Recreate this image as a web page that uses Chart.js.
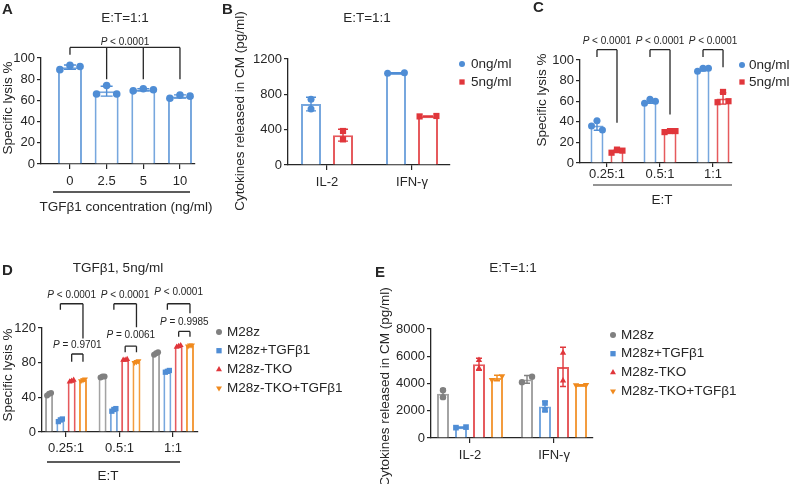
<!DOCTYPE html>
<html>
<head>
<meta charset="utf-8">
<script src="https://cdn.jsdelivr.net/npm/chart.js@4.4.1/dist/chart.umd.min.js"></script>
<style>
  html, body { margin: 0; padding: 0; background: #fff; }
  #wrap { position: relative; width: 794px; height: 484px; overflow: hidden; }
  #wrap canvas { position: absolute; left: 0; top: 0; }
</style>
</head>
<body>
<div id="wrap">
  <canvas id="chartA" width="794" height="484"></canvas>
  <canvas id="chartB" width="794" height="484"></canvas>
  <canvas id="chartC" width="794" height="484"></canvas>
  <canvas id="chartD" width="794" height="484"></canvas>
  <canvas id="chartE" width="794" height="484"></canvas>
</div>
<script>
// ---- data (replicates per bar) ----
// A: specific lysis vs TGFb1 dose
const aCats = ['0', '2.5', '5', '10'];
const aLysis = [[89, 93, 92], [66, 74, 66], [69, 71, 70], [62, 65, 64]];

// B: cytokines, 0 vs 5 ng/ml
const bCats = ['IL-2', 'IFN-γ'];
const bGroups = ['0ng/ml', '5ng/ml'];
const b0ng = [[745, 635], [1040, 1045]];
const b5ng = [[385, 290], [550, 555]];

// C: lysis by E:T ratio
const cCats = ['0.25:1', '0.5:1', '1:1'];
const cGroups = ['0ng/ml', '5ng/ml'];
const c0ng = [[36, 41, 32], [58, 62, 60], [89, 92, 92]];
const c5ng = [[10, 13, 12], [30, 31, 31], [59, 69, 60]];

// D: lysis, TKO vs control
const dCats = ['0.25:1', '0.5:1', '1:1'];
const dGroups = ['M28z', 'M28z+TGFβ1', 'M28z-TKO', 'M28z-TKO+TGFβ1'];
const dM28z = [[42, 44, 45], [63, 64, 64], [89, 91, 92]];
const dM28zTgf = [[12, 14, 15], [24, 26, 27], [69, 70, 71]];
const dTko = [[58, 59, 60], [83, 83, 84], [98, 99, 100]];
const dTkoTgf = [[59, 60, 61], [80, 81, 82], [99, 100, 100]];

// E: cytokines, TKO vs control
const eCats = ['IL-2', 'IFN-γ'];
const eGroups = dGroups;
const eM28z = [[3500, 3000], [4100, 4500]];
const eM28zTgf = [[760, 800], [2570, 2060]];
const eTko = [[5720, 5100], [6240, 4200]];
const eTkoTgf = [[4260, 4550], [3880, 3900]];

// P values
const aP = 'P < 0.0001';
const cP = ['P < 0.0001', 'P < 0.0001', 'P < 0.0001'];
const dPbig = ['P < 0.0001', 'P < 0.0001', 'P < 0.0001'];
const dPsmall = ['P = 0.9701', 'P = 0.0061', 'P = 0.9985'];

// ---- styles ----
const FONT = "'Liberation Sans', Arial, sans-serif";
const INK = '#262626';
const COL = {
  blue: { line: '#77a7de', mark: '#4f8dd5' },
  red: { line: '#e65a5d', mark: '#e0363b' },
  gray: { line: '#a3a3a3', mark: '#808080' },
  orange: { line: '#f39c3e', mark: '#f08a1e' }
};

const mean = a => a.reduce((s, v) => s + v, 0) / a.length;
const sd = a => {
  const m = mean(a);
  return Math.sqrt(a.reduce((s, v) => s + (v - m) ** 2, 0) / (a.length - 1));
};

function barSet(label, reps, col, marker, rot) {
  return {
    label, reps, marker, rot: rot || 0, markColor: col.mark,
    data: reps.map((r, i) => ({ x: i, y: mean(r) })),
    backgroundColor: '#ffffff',
    borderColor: col.line,
    borderWidth: 2,
    borderSkipped: 'start'
  };
}

function text(ctx, s, x, y, o = {}) {
  ctx.save();
  ctx.font = `${o.weight || 'normal'} ${o.size || 13.5}px ${FONT}`;
  ctx.fillStyle = o.color || INK;
  ctx.textAlign = o.align || 'center';
  ctx.textBaseline = 'middle';
  ctx.translate(x, y);
  if (o.rotate) ctx.rotate(o.rotate);
  ctx.fillText(s, 0, 0);
  ctx.restore();
}

function pLabel(ctx, s, cx, cy) {
  const rest = s.slice(1);
  ctx.save();
  ctx.font = `italic 10px ${FONT}`;
  const wP = ctx.measureText('P').width;
  ctx.font = `10px ${FONT}`;
  const wR = ctx.measureText(rest).width;
  const x0 = cx - (wP + wR) / 2;
  ctx.fillStyle = INK;
  ctx.textAlign = 'left';
  ctx.textBaseline = 'middle';
  ctx.font = `italic 10px ${FONT}`;
  ctx.fillText('P', x0, cy);
  ctx.font = `10px ${FONT}`;
  ctx.fillText(rest, x0 + wP, cy);
  ctx.restore();
}

function marker(ctx, style, rot, r, x, y) {
  Chart.helpers.drawPoint(ctx, {
    pointStyle: style,
    rotation: rot,
    radius: style === 'rect' ? r * 1.25 : (style === 'triangle' ? r * 1.15 : r),
    borderWidth: 0
  }, x, y);
}

function extras(p) {
  return {
    id: 'extras',
    afterDatasetsDraw(chart) {
      const ctx = chart.ctx, ys = chart.scales.y;
      chart.data.datasets.forEach((ds, di) => {
        const meta = chart.getDatasetMeta(di);
        ds.reps.forEach((reps, i) => {
          const bar = meta.data[i];
          const w = bar.width, cx = bar.x;
          const m = mean(reps), s = sd(reps);
          ctx.save();
          ctx.strokeStyle = ds.markColor;
          ctx.lineWidth = 1.4;
          const yTop = ys.getPixelForValue(m + s), yBot = ys.getPixelForValue(m - s);
          const cap = w * 0.25;
          ctx.beginPath();
          ctx.moveTo(cx, yTop); ctx.lineTo(cx, yBot);
          ctx.moveTo(cx - cap, yTop); ctx.lineTo(cx + cap, yTop);
          ctx.moveTo(cx - cap, yBot); ctx.lineTo(cx + cap, yBot);
          ctx.stroke();
          // spread overlapping replicates sideways, like a small swarm
          const pts = reps.map((v, k) => ({ k, py: ys.getPixelForValue(v), dx: 0 }));
          const rows = [];
          [...pts].sort((a, b) => a.py - b.py).forEach(pt => {
            const row = rows[rows.length - 1];
            if (row && pt.py - row[row.length - 1].py < 2 * p.r) row.push(pt);
            else rows.push([pt]);
          });
          const half = Math.min(0.42 * w, p.spread || 99);
          rows.forEach(row => {
            row.sort((a, b) => a.k - b.k);
            const n = row.length;
            row.forEach((pt, j) => { pt.dx = n > 1 ? (-1 + 2 * j / (n - 1)) * half : 0; });
          });
          ctx.fillStyle = ds.markColor;
          pts.forEach(pt => marker(ctx, ds.marker, ds.rot, p.r, cx + pt.dx, pt.py));
          ctx.restore();
        });
      });
    },
    afterDraw(chart) {
      const ctx = chart.ctx, ys = chart.scales.y;
      // significance brackets
      (p.brackets || []).forEach(b => {
        const legs = b.legs.map(([di, ci, v]) => ({
          x: chart.getDatasetMeta(di).data[ci].x,
          y: ys.getPixelForValue(v)
        }));
        const top = ys.getPixelForValue(b.top);
        ctx.save();
        ctx.strokeStyle = INK;
        ctx.lineWidth = 1.3;
        ctx.beginPath();
        ctx.moveTo(legs[0].x, top);
        ctx.lineTo(legs[legs.length - 1].x, top);
        legs.forEach(l => { ctx.moveTo(l.x, top); ctx.lineTo(l.x, l.y); });
        ctx.stroke();
        ctx.restore();
        pLabel(ctx, b.label, (legs[0].x + legs[legs.length - 1].x) / 2, ys.getPixelForValue(b.ly));
      });
      (p.lines || []).forEach(l => {
        ctx.save();
        ctx.strokeStyle = l.color || INK;
        ctx.lineWidth = 1.3;
        ctx.beginPath();
        ctx.moveTo(l.x1, l.y); ctx.lineTo(l.x2, l.y);
        ctx.stroke();
        ctx.restore();
      });
      (p.texts || []).forEach(t => text(ctx, t.s, t.x, t.y, t));
      if (p.legend) {
        const lg = p.legend;
        chart.data.datasets.forEach((ds, di) => {
          const y = lg.y0 + di * lg.dy;
          ctx.save();
          ctx.fillStyle = ds.markColor;
          marker(ctx, ds.marker, ds.rot, 3, lg.x, y);
          ctx.restore();
          text(ctx, ds.label, lg.tx, y, { align: 'left' });
        });
      }
    }
  };
}

function makeChart(id, p) {
  const yW = 40, xH = 30;
  const tickFont = { family: FONT, size: 13 };
  return new Chart(document.getElementById(id), {
    type: 'bar',
    data: { datasets: p.datasets },
    options: {
      responsive: false,
      animation: false,
      layout: { padding: { left: p.area.l - yW, right: 794 - p.area.r, top: p.area.t, bottom: 484 - p.area.b - xH } },
      datasets: { bar: { categoryPercentage: p.catPct, barPercentage: p.barPct, grouped: true } },
      plugins: { legend: { display: false }, tooltip: { enabled: false } },
      scales: {
        x: {
          type: 'linear', min: p.xMin, max: p.xMax, offset: false,
          afterBuildTicks: s => { s.ticks = p.cats.map((c, i) => ({ value: i })); },
          afterFit: s => { s.height = xH; },
          grid: { display: true, drawOnChartArea: false, drawTicks: true, tickLength: p.xTick || 5, color: INK, lineWidth: 1.2, offset: false },
          border: { display: true, color: INK, width: 1.3 },
          ticks: { autoSkip: false, maxRotation: 0, padding: p.xPad, color: INK, font: tickFont, callback: v => p.cats[v] }
        },
        y: {
          min: 0, max: p.yMax,
          afterFit: s => { s.width = yW; },
          grid: { display: true, drawOnChartArea: false, drawTicks: true, tickLength: 4, color: INK, lineWidth: 1.2 },
          border: { display: true, color: INK, width: 1.3 },
          ticks: { stepSize: p.yStep, padding: 2, color: INK, font: tickFont, callback: v => String(v) }
        }
      }
    },
    plugins: [extras(p)]
  });
}

const rot90 = -Math.PI / 2;

// ---- A ----
makeChart('chartA', {
  area: { l: 41, r: 195, t: 58, b: 164 }, xMin: -0.79, xMax: 3.41,
  cats: aCats, yMax: 100, yStep: 20, catPct: 1, barPct: 0.655, xPad: 5, r: 3.8,
  datasets: [barSet('lysis', aLysis, COL.blue, 'circle')],
  brackets: [{ legs: [[0, 0, 103], [0, 1, 80], [0, 2, 80], [0, 3, 80]], top: 110, label: aP, ly: 115 }],
  lines: [{ x1: 53, x2: 190, y: 192 }],
  texts: [
    { s: 'A', x: 2, y: 10, align: 'left', weight: 'bold', size: 15 },
    { s: 'E:T=1:1', x: 125, y: 18 },
    { s: 'Specific lysis %', x: 8, y: 108, rotate: rot90 },
    { s: 'TGFβ1 concentration (ng/ml)', x: 126, y: 207 }
  ]
});

// ---- B ----
makeChart('chartB', {
  area: { l: 288, r: 450, t: 59, b: 165 }, xMin: -0.459, xMax: 1.447,
  cats: bCats, yMax: 1200, yStep: 400, catPct: 0.753, barPct: 0.625, xPad: 5, r: 3.5,
  datasets: [
    barSet(bGroups[0], b0ng, COL.blue, 'circle'),
    barSet(bGroups[1], b5ng, COL.red, 'rect')
  ],
  legend: { x: 462, tx: 471, y0: 64, dy: 18 },
  texts: [
    { s: 'B', x: 222, y: 10, align: 'left', weight: 'bold', size: 15 },
    { s: 'E:T=1:1', x: 367, y: 18 },
    { s: 'Cytokines released in CM (pg/ml)', x: 240, y: 111, rotate: rot90 }
  ]
});

// ---- C ----
const cLegBottom = [39, 47, 93];
makeChart('chartC', {
  area: { l: 580, r: 732, t: 60, b: 163 }, xMin: -0.509, xMax: 2.358,
  cats: cCats, yMax: 100, yStep: 20, catPct: 0.755, barPct: 0.65, xPad: 0, xTick: 4, r: 3.5,
  datasets: [
    barSet(cGroups[0], c0ng, COL.blue, 'circle'),
    barSet(cGroups[1], c5ng, COL.red, 'rect')
  ],
  brackets: cCats.map((c, k) => ({ legs: [[0, k, 103], [1, k, cLegBottom[k]]], top: 110, label: cP[k], ly: 118 })),
  legend: { x: 742, tx: 749, y0: 65, dy: 17 },
  lines: [{ x1: 593, x2: 732, y: 185, color: '#707070' }],
  texts: [
    { s: 'C', x: 533, y: 8, align: 'left', weight: 'bold', size: 15 },
    { s: 'Specific lysis %', x: 542, y: 100, rotate: rot90 },
    { s: 'E:T', x: 662, y: 200 }
  ]
});

// ---- D ----
const dBigRight = [108, 121, 137];
const dBigLabel = [158, 158, 161];
const dSmall = [{ top: 90, leg: 81, ly: 100 }, { top: 99, leg: 92, ly: 112 }, { top: 116, leg: 110, ly: 127 }];
makeChart('chartD', {
  area: { l: 42, r: 198, t: 328, b: 432 }, xMin: -0.449, xMax: 2.467,
  cats: dCats, yMax: 120, yStep: 40, catPct: 0.845, barPct: 0.71, xPad: 4, r: 3, spread: 2,
  datasets: [
    barSet(dGroups[0], dM28z, COL.gray, 'circle'),
    barSet(dGroups[1], dM28zTgf, COL.blue, 'rect'),
    barSet(dGroups[2], dTko, COL.red, 'triangle'),
    barSet(dGroups[3], dTkoTgf, COL.orange, 'triangle', 180)
  ],
  brackets: [
    ...dCats.map((c, k) => ({ legs: [[1, k, 141], [3, k, dBigRight[k]]], top: 148, label: dPbig[k], ly: dBigLabel[k] })),
    ...dCats.map((c, k) => ({ legs: [[2, k, dSmall[k].leg], [3, k, dSmall[k].leg]], top: dSmall[k].top, label: dPsmall[k], ly: dSmall[k].ly }))
  ],
  legend: { x: 219, tx: 227, y0: 332, dy: 18.7 },
  lines: [{ x1: 47, x2: 180, y: 462 }],
  texts: [
    { s: 'D', x: 2, y: 271, align: 'left', weight: 'bold', size: 15 },
    { s: 'TGFβ1, 5ng/ml', x: 118, y: 268 },
    { s: 'Specific lysis %', x: 8, y: 375, rotate: rot90 },
    { s: 'E:T', x: 108, y: 476 }
  ]
});

// ---- E ----
makeChart('chartE', {
  area: { l: 431, r: 593, t: 329, b: 438 }, xMin: -0.464, xMax: 1.464,
  cats: eCats, yMax: 8000, yStep: 2000, catPct: 0.857, barPct: 0.667, xPad: 5, r: 3.2,
  datasets: [
    barSet(eGroups[0], eM28z, COL.gray, 'circle'),
    barSet(eGroups[1], eM28zTgf, COL.blue, 'rect'),
    barSet(eGroups[2], eTko, COL.red, 'triangle'),
    barSet(eGroups[3], eTkoTgf, COL.orange, 'triangle', 180)
  ],
  legend: { x: 613, tx: 621, y0: 335, dy: 18.7 },
  texts: [
    { s: 'E', x: 375, y: 273, align: 'left', weight: 'bold', size: 15 },
    { s: 'E:T=1:1', x: 513, y: 268 },
    { s: 'Cytokines released in CM (pg/ml)', x: 385, y: 387, rotate: rot90 }
  ]
});
</script>
</body>
</html>
